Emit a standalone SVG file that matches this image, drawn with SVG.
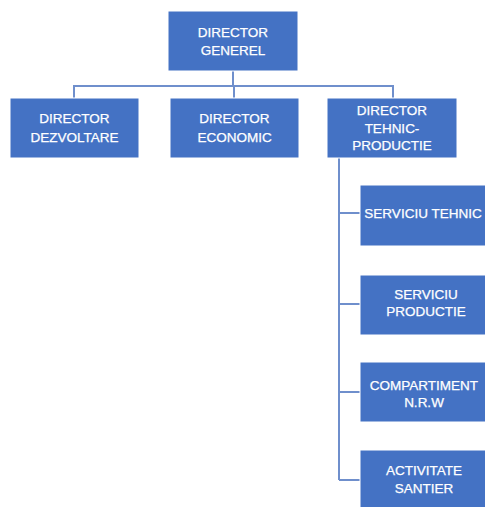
<svg xmlns="http://www.w3.org/2000/svg" width="485" height="507" viewBox="0 0 485 507">
<style>
.box{fill:#4472C4;stroke:#ffffff;stroke-width:1}
.t{font-family:"Liberation Sans",Arial,sans-serif;font-size:13.5px;fill:#ffffff;text-anchor:middle;stroke:#ffffff;stroke-width:0.25}
.c{fill:none;stroke:#6f8fcc;stroke-width:2}
</style>
<rect width="485" height="507" fill="#ffffff"/>
<g id="connectors">
<path class="c" d="M233,71 V86 M74,98 V86 H393 V98 M234,86 V98"/>
<path class="c" d="M339,158 V480 M339,213 H360 M339,304 H360 M339,392 H360 M339,480 H360"/>
</g>
<g id="director-generel">
<rect class="box" x="168" y="11" width="130" height="60"/>
<text class="t" x="233" y="37">DIRECTOR</text>
<text class="t" x="233" y="55">GENEREL</text>
</g>
<g id="director-dezvoltare">
<rect class="box" x="10" y="98" width="129" height="60"/>
<text class="t" x="74.5" y="123">DIRECTOR</text>
<text class="t" x="74.5" y="142">DEZVOLTARE</text>
</g>
<g id="director-economic">
<rect class="box" x="170" y="98" width="129" height="60"/>
<text class="t" x="234.5" y="123">DIRECTOR</text>
<text class="t" x="234.5" y="142">ECONOMIC</text>
</g>
<g id="director-tehnic">
<rect class="box" x="327" y="98" width="130" height="60"/>
<text class="t" x="392" y="115">DIRECTOR</text>
<text class="t" x="392" y="133">TEHNIC-</text>
<text class="t" x="392" y="150">PRODUCTIE</text>
</g>
<g id="serviciu-tehnic">
<rect class="box" x="360" y="185" width="130" height="61"/>
<text class="t" x="423" y="218">SERVICIU TEHNIC</text>
</g>
<g id="serviciu-productie">
<rect class="box" x="360" y="275" width="130" height="60"/>
<text class="t" x="426" y="299">SERVICIU</text>
<text class="t" x="426" y="316">PRODUCTIE</text>
</g>
<g id="compartiment-nrw">
<rect class="box" x="360" y="362" width="130" height="60"/>
<text class="t" x="424" y="390">COMPARTIMENT</text>
<text class="t" x="424" y="407">N.R.W</text>
</g>
<g id="activitate-santier">
<rect class="box" x="360" y="450" width="130" height="60"/>
<text class="t" x="424" y="475">ACTIVITATE</text>
<text class="t" x="424" y="493">SANTIER</text>
</g>
</svg>
